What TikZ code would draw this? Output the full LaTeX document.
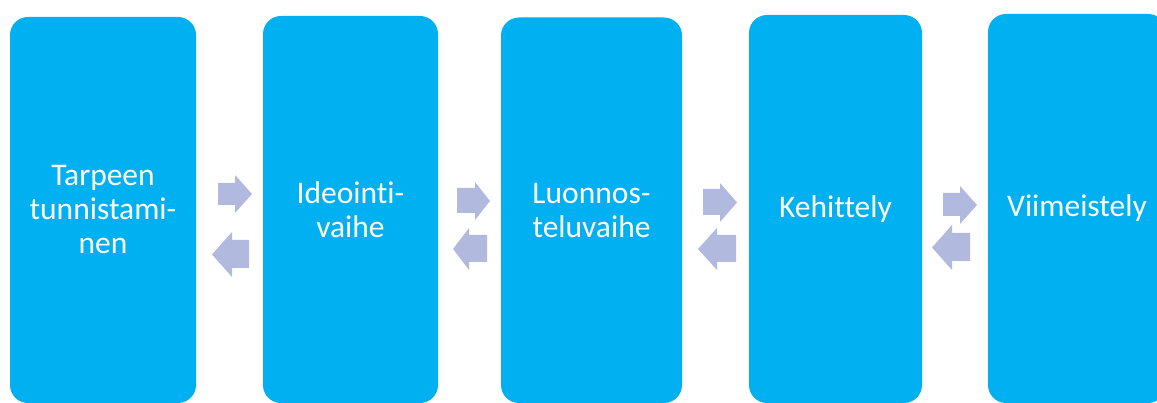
\documentclass[tikz,border=0pt]{standalone}
\usepackage{fontspec}
\setmainfont{Carlito}[RawFeature={-liga;-clig}]
\definecolor{boxblue}{HTML}{00B0F0}
\definecolor{arrowlav}{HTML}{B1BADE}
\begin{document}
\begin{tikzpicture}[x=1pt,y=-1pt,
  stagebox/.style={fill=boxblue, draw=none, rounded corners=18pt, inner sep=0pt,
    text=white, align=center, font=\fontsize{31.5}{34}\selectfont},
  flowarrow/.style={fill=arrowlav, draw=none}]
\useasboundingbox (0,0) rectangle (1157,403);
\clip (0,0) rectangle (1157,403);
\node[stagebox, minimum width=186pt, minimum height=386pt] (b1) at (103,210) {Tarpeen\\tunnistami-\\nen};
\node[stagebox, minimum width=175pt, minimum height=387pt] (b2) at (350.5,209.5) {Ideointi-\\vaihe};
\node[stagebox, minimum width=181pt, minimum height=385.5pt] (b3) at (591.5,210.25) {Luonnos-\\teluvaihe};
\node[stagebox, minimum width=173pt, minimum height=388pt] (b4) at (835.5,209) {Kehittely};
\node[stagebox, minimum width=178pt, minimum height=389pt] (b5) at (1077,208.5) {Viimeistely};
% gap 1
\fill[flowarrow] (218,183) -- (235,183) -- (235,175) -- (252,194) -- (235,213) -- (235,205) -- (218,205) -- cycle;
\fill[flowarrow] (249,240) -- (232,240) -- (232,232) -- (212,254.5) -- (232,277) -- (232,268) -- (249,268) -- cycle;
% gap 2
\fill[flowarrow] (457,188) -- (475,188) -- (475,182) -- (490,201) -- (475,220) -- (475,213) -- (457,213) -- cycle;
\fill[flowarrow] (487,235) -- (469,235) -- (469,228) -- (453,249) -- (469,270) -- (469,262) -- (487,262) -- cycle;
% gap 3
\fill[flowarrow] (703,189) -- (720,189) -- (720,183) -- (737,202.5) -- (720,222) -- (720,215) -- (703,215) -- cycle;
\fill[flowarrow] (736,235) -- (717,235) -- (717,228) -- (698,249) -- (717,270) -- (717,262) -- (736,262) -- cycle;
% gap 4
\fill[flowarrow] (943,193) -- (960,193) -- (960,186) -- (977,205) -- (960,224) -- (960,216) -- (943,216) -- cycle;
\fill[flowarrow] (970,233) -- (952,233) -- (952,225) -- (932,247.5) -- (952,270) -- (952,261) -- (970,261) -- cycle;
\end{tikzpicture}
\end{document}
